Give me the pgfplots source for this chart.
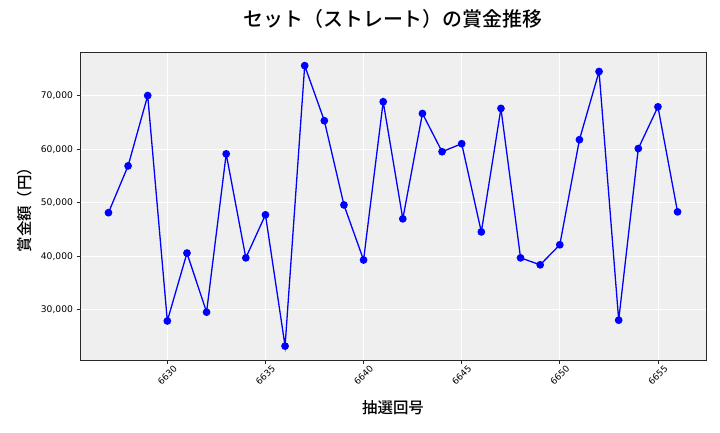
\documentclass[border=0pt]{standalone}
\usepackage{pgfplots}
\pgfplotsset{compat=1.18}
\usepackage{fontspec}
\setmainfont{DejaVu Sans}
\newfontfamily\cjk{Noto Sans CJK JP Medium}
\definecolor{bgc}{RGB}{239,239,239}
\definecolor{framec}{RGB}{40,40,40}
\begin{document}
\begin{tikzpicture}[x=1bp,y=1bp]
\useasboundingbox (0,0) rectangle (720,432);
\begin{axis}[
  at={(80bp,72bp)}, anchor=south west,
  scale only axis, width=626bp, height=308bp,
  xmin=6625.55, xmax=6657.45, ymin=20600, ymax=78200,
  axis background/.style={fill=bgc},
  axis line style={framec, line width=0.9pt},
  grid=major, major grid style={white, line width=0.8pt},
  xtick={6630,6635,6640,6645,6650,6655},
  ytick={30000,40000,50000,60000,70000},
  xticklabel style={anchor=center, yshift=-12bp, rotate=45, font=\fontsize{9}{10}\selectfont, /pgf/number format/1000 sep={}},
  yticklabel style={font=\fontsize{9.2}{10}\selectfont, /pgf/number format/1000 sep={,}, /pgf/number format/fixed},
  /pgf/number format/assume math mode=true,
  scaled y ticks=false,
  tick align=outside, tick pos=left,
  major tick length=3.5bp, tick style={framec, line width=0.8pt},
  title={\cjk\fontsize{20}{24}\selectfont セット（ストレート）の賞金推移},
  title style={at={(axis description cs:0.5,1.0877)}, anchor=center},
  xlabel={\cjk\fontsize{15.5}{18}\selectfont 抽選回号},
  ylabel={\cjk\fontsize{15.5}{18}\selectfont 賞金額（円）},
  xlabel style={at={(axis description cs:0.5,-0.1558)}, anchor=center},
  ylabel style={at={(axis description cs:-0.0879,0.5)}, anchor=center},
]
\addplot[color=blue, line width=1.3pt, mark=*, mark size=3.2pt, mark options={fill=blue, draw=blue}] coordinates {
(6627,48150) (6628,56900) (6629,70050) (6630,27900) (6631,40600) (6632,29550)
(6633,59150) (6634,39700) (6635,47750) (6636,23200) (6637,75650) (6638,65350)
(6639,49600) (6640,39300) (6641,68900) (6642,47000) (6643,66700) (6644,59550)
(6645,61050) (6646,44550) (6647,67650) (6648,39700) (6649,38400) (6650,42150)
(6651,61800) (6652,74550) (6653,28050) (6654,60150) (6655,67950) (6656,48300)
};
\end{axis}
\end{tikzpicture}
\end{document}
